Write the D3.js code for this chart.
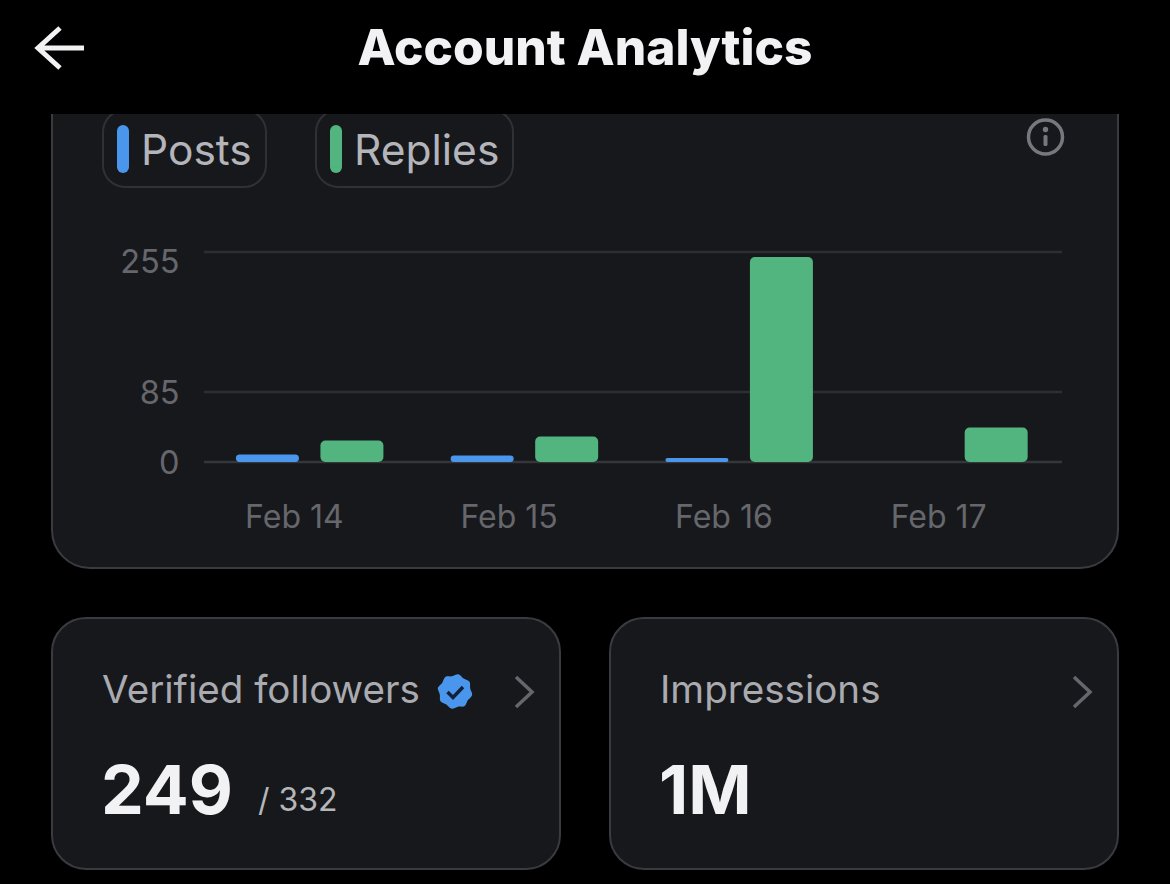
<!DOCTYPE html>
<html><head><meta charset="utf-8">
<script src="https://cdn.jsdelivr.net/npm/d3@7"></script>
<style>html,body{margin:0;padding:0;background:#000;overflow:hidden}svg{display:block}text{font-family:Inter,Roboto,sans-serif}</style>
</head><body><svg id="c" width="1170" height="884"></svg>
<script>
const categories=["Feb 14","Feb 15","Feb 16","Feb 17"];
const posts=[9,8,5,0];
const replies=[26,31,249,42];
const yTicks=[0,85,255];
const seriesNames=["Posts","Replies"];
const colors={Posts:"#4a96ec",Replies:"#52b47e"};
const svg=d3.select("#c");
const cardFill="#17181c",cardStroke="#3a3b40";
svg.append("rect").attr("width",1170).attr("height",884).attr("fill","#000");
// main card and legend chips (tops clipped by header)
svg.append("rect").attr("x",52).attr("y",40).attr("width",1066).attr("height",528).attr("rx",38).attr("fill",cardFill).attr("stroke",cardStroke).attr("stroke-width",2);
const leg=[{n:seriesNames[0],x:103,w:163},{n:seriesNames[1],x:316,w:197}];
leg.forEach(l=>{
 svg.append("rect").attr("x",l.x).attr("y",110).attr("width",l.w).attr("height",77).attr("rx",22).attr("fill","none").attr("stroke","#303136").attr("stroke-width",2);
 svg.append("rect").attr("x",l.x+14).attr("y",125).attr("width",12).attr("height",48).attr("rx",6).attr("fill",colors[l.n]);
 svg.append("text").attr("x",l.x+38).attr("y",164.5).attr("font-size",42.5).attr("fill","#b4b5ba").text(l.n);
});
svg.append("rect").attr("width",1170).attr("height",114).attr("fill","#000");
// header
svg.append("text").attr("x",585).attr("y",65).attr("text-anchor","middle").attr("font-size",49.6).attr("font-weight",800).attr("fill","#f2f2f4").text("Account Analytics");
svg.append("path").attr("d","M84 48H38M60 28L38 48L60 68").attr("fill","none").attr("stroke","#f2f2f4").attr("stroke-width",5);
// info icon
svg.append("circle").attr("cx",1045.5).attr("cy",137).attr("r",17).attr("fill","none").attr("stroke","#77787d").attr("stroke-width",3.5);
svg.append("circle").attr("cx",1045.5).attr("cy",129.5).attr("r",2.7).attr("fill","#77787d");
svg.append("rect").attr("x",1043.5).attr("y",135).attr("width",4).attr("height",11).attr("rx",1.5).attr("fill","#77787d");
// chart
const y=d3.scaleLinear().domain([0,255]).range([462,252]);
const x=d3.scaleBand().domain(categories).range([188,1047]);
svg.append("g").selectAll("line").data(yTicks).join("line").attr("x1",204).attr("x2",1062).attr("y1",d=>y(d)).attr("y2",d=>y(d)).attr("stroke",d=>d===0?"#35363a":"#2d2e33").attr("stroke-width",2.5);
svg.append("g").selectAll("text").data(yTicks).join("text").attr("x",179.5).attr("y",d=>y(d)+(d===255?21:12)).attr("text-anchor","end").attr("font-size",32.5).attr("fill","#66676c").text(d=>d);
const barW=63,gap=21.5;
const cx=c=>x(c)+x.bandwidth()/2-1;
const barCx=c=>cx(c)+15.3;
const bar=(g,v,c,off,name)=>{ if(v<=0)return;
 g.append("rect").attr("x",barCx(c)+off).attr("y",y(v)).attr("width",barW).attr("height",y(0)-y(v)).attr("rx",Math.min(5,(y(0)-y(v))/2)).attr("fill",colors[name]);};
const g=svg.append("g");
categories.forEach((c,i)=>{bar(g,posts[i],c,-barW-gap/2,"Posts");bar(g,replies[i],c,gap/2,"Replies");});
svg.append("g").selectAll("text").data(categories).join("text").attr("x",d=>cx(d)).attr("y",528).attr("text-anchor","middle").attr("font-size",32).attr("fill","#66676c").text(d=>d);
// bottom cards
const cards=[{x:52,t:"Verified followers",v:"249",s:"/ 332"},{x:610,t:"Impressions",v:"1M"}];
cards.forEach(k=>{
 svg.append("rect").attr("x",k.x).attr("y",618).attr("width",508).attr("height",251).attr("rx",34).attr("fill",cardFill).attr("stroke",cardStroke).attr("stroke-width",2);
 svg.append("text").attr("x",k.x+50).attr("y",703).attr("font-size",38.6).attr("fill","#a9abb0").text(k.t);
 svg.append("text").attr("x",k.x+49).attr("y",814).attr("font-size",68).attr("font-weight",700).attr("fill","#f2f2f4").text(k.v);
 if(k.s)svg.append("text").attr("x",k.x+206).attr("y",811).attr("font-size",32).attr("fill","#b5b6ba").text(k.s);
 svg.append("path").attr("d",`M${k.x+464} 677L${k.x+480} 692L${k.x+464} 707`).attr("fill","none").attr("stroke","#66676c").attr("stroke-width",3.5);
});
// verified badge
const star=d3.range(16).map(i=>{const a=i*Math.PI/8+Math.PI/16,r=i%2?15.5:17.5;return [455+r*Math.cos(a),691.5+r*Math.sin(a)];});
svg.append("path").attr("d",d3.line().curve(d3.curveCatmullRomClosed)(star)).attr("fill","#4a96ec");
svg.append("path").attr("d","M447.5 692L453 697.5L463 687").attr("fill","none").attr("stroke","#12203a").attr("stroke-width",3.5);
</script></body></html>
